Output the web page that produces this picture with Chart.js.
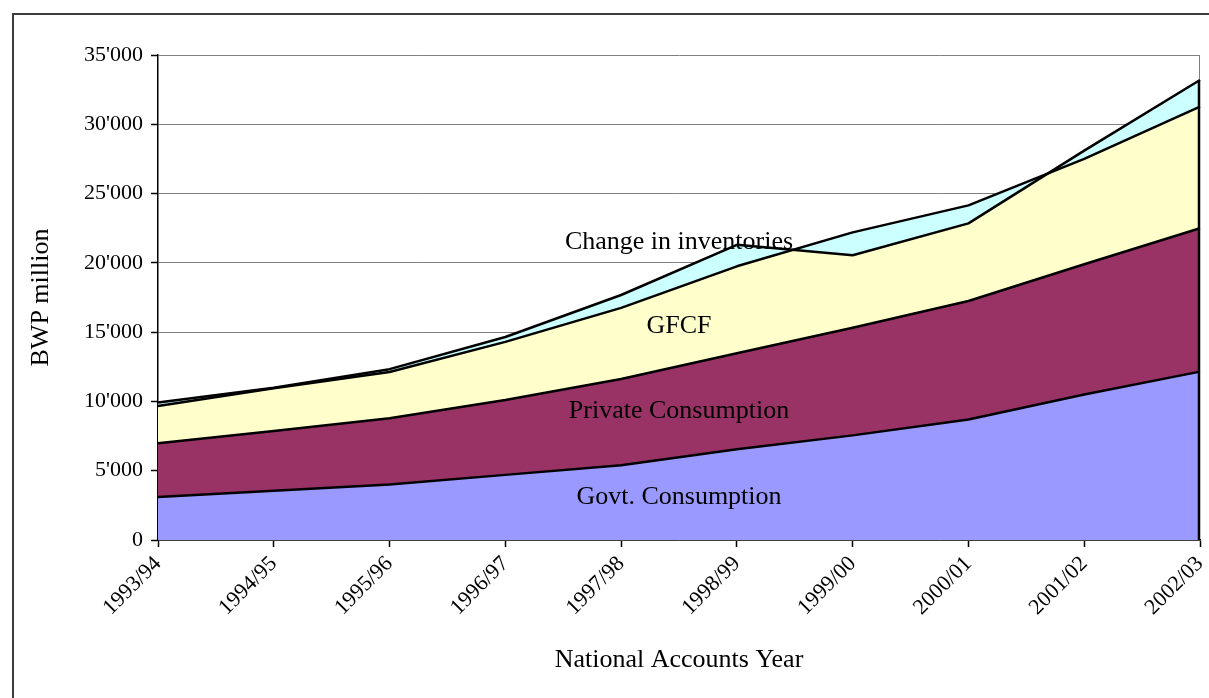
<!DOCTYPE html>
<html>
<head>
<meta charset="utf-8">
<script src="https://cdn.jsdelivr.net/npm/chart.js@4.4.1/dist/chart.umd.min.js"></script>
<style>
  html, body { margin: 0; padding: 0; background: #fff; }
  #wrap { position: relative; width: 1209px; height: 698px; overflow: hidden; }
  #frame { position: absolute; left: 12px; top: 13px; width: 1300px; height: 800px; border: 2px solid #3c3c3c; box-sizing: border-box; pointer-events: none; }
  canvas { position: absolute; left: 0; top: 0; }
</style>
</head>
<body>
<div id="wrap">
  <canvas id="c" width="1209" height="698"></canvas>
  <div id="frame"></div>
</div>
<script>
// ---- data (BWP million) ----
const categories = ['1993/94','1994/95','1995/96','1996/97','1997/98','1998/99','1999/00','2000/01','2001/02','2002/03'];
const govtConsumption    = [3100, 3550, 4000, 4700, 5400, 6550, 7550, 8700, 10500, 12150];
const privateConsumption = [3880, 4320, 4780, 5400, 6220, 6920, 7770, 8550, 9400, 10350];
const gfcf               = [2690, 3080, 3340, 4200, 5130, 6280, 6880, 6900, 7600, 8770];
const changeInInventories = [260, 30, 210, 350, 930, 1550, -1650, -1300, 600, 1930];
const seriesNames = ['Govt. Consumption', 'Private Consumption', 'GFCF', 'Change in inventories'];
const yTickValues = [0, 5000, 10000, 15000, 20000, 25000, 30000, 35000];

// cumulative (stacked) tops, built from the component series
function addArr(a, b) { return a.map((v, i) => v + b[i]); }
const cumGovt = govtConsumption.slice();
const cumPrivate = addArr(cumGovt, privateConsumption);
const cumGfcf = addArr(cumPrivate, gfcf);
const cumTotal = addArr(cumGfcf, changeInInventories);

// in-chart series labels: [category position, value]
const labelSpots = [
  { text: seriesNames[3], x: 4.5, y: 21500 },
  { text: seriesNames[2], x: 4.5, y: 15450 },
  { text: seriesNames[1], x: 4.5, y: 9300 },
  { text: seriesNames[0], x: 4.5, y: 3100 }
];

const FONT = '"Liberation Serif", "Times New Roman", serif';

function fmt(v) {
  return String(v).replace(/\B(?=(\d{3})+(?!\d))/g, "'");
}

const labelPlugin = {
  id: 'seriesLabels',
  beforeDatasetsDraw(chart) {
    const { ctx, chartArea } = chart;
    ctx.save();
    ctx.strokeStyle = '#808080';
    ctx.lineWidth = 1;
    ctx.beginPath();
    ctx.moveTo(chartArea.right - 0.5, chartArea.top);
    ctx.lineTo(chartArea.right - 0.5, chartArea.bottom);
    ctx.stroke();
    ctx.restore();
  },
  afterDatasetsDraw(chart) {
    const { ctx, scales, chartArea } = chart;
    ctx.save();
    // black outline along the right edge of the stacked areas
    const last = cumTotal.length - 1;
    const topVal = Math.max(cumTotal[last], cumGfcf[last]);
    ctx.strokeStyle = '#000';
    ctx.lineWidth = 2.5;
    ctx.beginPath();
    ctx.moveTo(chartArea.right - 1, scales.y.getPixelForValue(topVal));
    ctx.lineTo(chartArea.right - 1, chartArea.bottom);
    ctx.stroke();

    ctx.fillStyle = '#000';
    ctx.font = '26px ' + FONT;
    ctx.textAlign = 'center';
    ctx.textBaseline = 'middle';
    labelSpots.forEach(l => {
      ctx.fillText(l.text, scales.x.getPixelForValue(l.x), scales.y.getPixelForValue(l.y));
    });
    ctx.restore();
  }
};

const common = { pointRadius: 0, pointHoverRadius: 0, borderColor: '#000', borderWidth: 2.5, tension: 0, borderJoinStyle: 'round' };

new Chart(document.getElementById('c'), {
  type: 'line',
  data: {
    labels: categories,
    datasets: [
      Object.assign({ label: seriesNames[0], data: cumGovt, backgroundColor: '#9999FF', fill: 'origin', order: 4 }, common),
      Object.assign({ label: seriesNames[1], data: cumPrivate, backgroundColor: '#993366', fill: '-1', order: 3 }, common),
      Object.assign({ label: seriesNames[2], data: cumGfcf, backgroundColor: '#FFFFCC', fill: '-1', order: 2 }, common),
      Object.assign({ label: seriesNames[3], data: cumTotal, backgroundColor: '#CCFFFF', fill: '-1', order: 1 }, common)
    ]
  },
  options: {
    responsive: false,
    animation: false,
    events: [],
    layout: { padding: { top: 55, right: 9, left: 0, bottom: 0 } },
    plugins: {
      legend: { display: false },
      tooltip: { enabled: false },
      filler: { drawTime: 'beforeDatasetsDraw' }
    },
    scales: {
      x: {
        offset: false,
        afterFit(scale) { scale.height = 158; scale.paddingRight = 0; scale.paddingLeft = 0; },
        grid: { display: true, drawOnChartArea: false, drawTicks: true, tickLength: 7, tickColor: '#000', tickWidth: 1.5 },
        border: { display: true, color: '#000', width: 1.5 },
        ticks: { color: '#000', font: { family: FONT, size: 22 }, minRotation: 45, maxRotation: 45, autoSkip: false, padding: 4 },
        title: { display: true, text: 'National Accounts Year', color: '#000', font: { family: FONT, size: 26 }, padding: { top: 0, bottom: 22 } }
      },
      y: {
        min: 0, max: 35000,
        afterFit(scale) { scale.width = 158; scale.paddingTop = 0; scale.paddingBottom = 0; },
        afterBuildTicks(scale) { scale.ticks = yTickValues.map(v => ({ value: v })); },
        grid: { display: true, drawOnChartArea: true, color: '#808080', lineWidth: 1, tickLength: 7, tickColor: '#000', tickWidth: 1.5 },
        border: { display: true, color: '#000', width: 1.5 },
        ticks: { color: '#000', font: { family: FONT, size: 22 }, padding: 8, callback: v => fmt(v) },
        title: { display: true, text: 'BWP million', color: '#000', font: { family: FONT, size: 26 }, padding: { top: 26, bottom: 0 } }
      }
    }
  },
  plugins: [labelPlugin]
});
</script>
</body>
</html>
